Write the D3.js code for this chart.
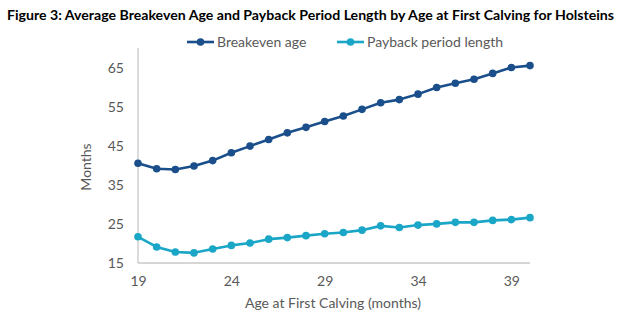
<!DOCTYPE html>
<html><head><meta charset="utf-8">
<script src="https://cdn.jsdelivr.net/npm/d3@7"></script>
<style>body{margin:0;background:#fff}svg{display:block}</style>
</head><body>
<svg id="c" width="627" height="324"></svg>
<script>
const ages = [19,20,21,22,23,24,25,26,27,28,29,30,31,32,33,34,35,36,37,38,39,40];
const breakeven = [40.5,39.1,38.9,39.8,41.2,43.2,44.9,46.6,48.3,49.7,51.2,52.6,54.3,56.0,56.8,58.2,59.9,61.0,62.0,63.5,65.0,65.5];
const payback = [21.7,19.1,17.8,17.6,18.6,19.5,20.1,21.1,21.5,22.0,22.5,22.8,23.4,24.5,24.1,24.7,25.0,25.4,25.4,25.9,26.1,26.6];
const xTicks = [19,24,29,34,39];
const yTicks = [15,25,35,45,55,65];
const seriesNames = ["Breakeven age","Payback period length"];
const colors = ["#1a4f8b","#1aa6c6"];
const titleText = "Figure 3: Average Breakeven Age and Payback Period Length by Age at First Calving for Holsteins";

const svg = d3.select("#c");
const font = "Lato, 'Open Sans', sans-serif";
const grey = "#595959";
const x = d3.scaleLinear().domain([19,40]).range([138,530]);
const y = d3.scaleLinear().domain([15,70]).range([263,48]);

// title, sized to fit the reference's width
const title = svg.append("text").attr("x",7).attr("y",20).text(titleText)
  .attr("font-family",font).attr("font-weight","bold").attr("font-size",14.5).attr("fill","#000");
const tw = title.node().getComputedTextLength();
if (tw > 608) title.attr("font-size", 14.5*608/tw);

// axes lines
svg.append("line").attr("x1",x(19)).attr("x2",x(19)).attr("y1",48).attr("y2",y(15)).attr("stroke","#c8c8c8").attr("stroke-width",1.3);
svg.append("line").attr("x1",x(19)).attr("x2",x(40)).attr("y1",y(15)).attr("y2",y(15)).attr("stroke","#c8c8c8").attr("stroke-width",1.3);

const yAx = svg.append("g").attr("transform",`translate(${x(19)},0)`)
  .call(d3.axisLeft(y).tickValues(yTicks).tickSize(0).tickPadding(14));
const xAx = svg.append("g").attr("transform",`translate(0,${y(15)})`)
  .call(d3.axisBottom(x).tickValues(xTicks).tickSize(0).tickPadding(13));
[yAx,xAx].forEach(g=>{
  g.select(".domain").remove();
  g.selectAll("text").attr("font-family",font).attr("font-size",14).attr("fill",grey);
});

svg.append("text").attr("x",333).attr("y",308).attr("text-anchor","middle").text("Age at First Calving (months)")
  .attr("font-family",font).attr("font-size",14).attr("fill",grey);
svg.append("text").attr("transform","translate(91,167) rotate(-90)").attr("text-anchor","middle").text("Months")
  .attr("font-family",font).attr("font-size",14).attr("fill",grey);

const line = d3.line().x((d,i)=>x(ages[i])).y(d=>y(d));
[breakeven,payback].forEach((s,k)=>{
  svg.append("path").datum(s).attr("d",line).attr("fill","none").attr("stroke",colors[k]).attr("stroke-width",2.6).attr("stroke-linejoin","round");
  svg.selectAll(null).data(s).enter().append("circle").attr("cx",(d,i)=>x(ages[i])).attr("cy",d=>y(d)).attr("r",3.8).attr("fill",colors[k]);
});

// legend
const legX = [187,337];
seriesNames.forEach((n,k)=>{
  const g = svg.append("g");
  g.append("line").attr("x1",legX[k]).attr("x2",legX[k]+27).attr("y1",42).attr("y2",42).attr("stroke",colors[k]).attr("stroke-width",2.6);
  g.append("circle").attr("cx",legX[k]+13.5).attr("cy",42).attr("r",3.8).attr("fill",colors[k]);
  g.append("text").attr("x",legX[k]+30).attr("y",47).text(n).attr("font-family",font).attr("font-size",14).attr("fill",grey);
});
</script>
</body></html>
